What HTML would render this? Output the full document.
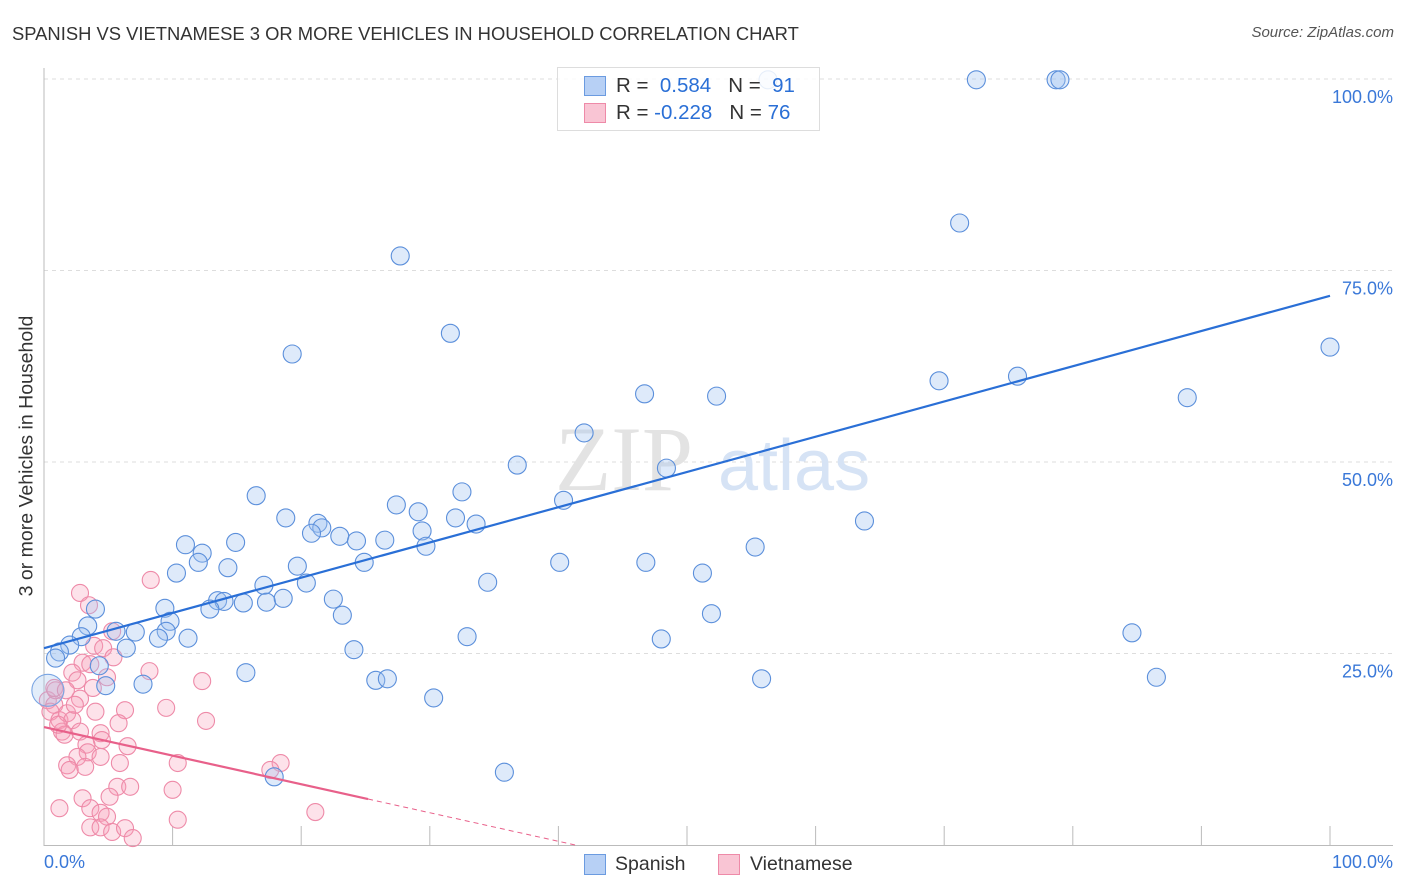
<!DOCTYPE html>
<html><head><meta charset="utf-8">
<style>
body{margin:0;background:#fff;font-family:"Liberation Sans",sans-serif;}
#wrap{position:relative;width:1406px;height:892px;overflow:hidden;}
.t{position:absolute;white-space:nowrap;}
</style></head>
<body>
<div id="wrap">
<div class="t" style="left:12px;top:23px;font-size:18.4px;color:#333;">SPANISH VS VIETNAMESE 3 OR MORE VEHICLES IN HOUSEHOLD CORRELATION CHART</div>
<div class="t" style="right:12px;top:24px;font-size:15px;color:#555;font-style:italic;">Source: ZipAtlas.com</div>
<svg id="svg" width="1406" height="892" style="position:absolute;left:0;top:0"></svg>
</div>
<script>
const blueX=[56.3,72.5,78.7,79.0,71.2,27.7,19.3,31.6,100,75.7,69.6,88.9,52.3,46.7,42.0,36.8,48.4,40.4,32.5,16.5,27.4,29.1,32.0,33.6,18.8,21.3,21.6,20.8,23.0,24.3,26.5,29.4,29.7,63.8,55.3,14.9,11.0,12.3,12.0,24.9,40.1,46.8,14.3,19.7,10.3,51.2,34.5,17.1,20.4,13.5,14.0,15.5,17.3,18.6,22.5,12.9,9.4,4.0,23.2,51.9,9.8,3.4,5.6,7.1,9.5,84.6,32.9,48.0,11.2,8.9,2.9,2.0,6.4,24.1,1.2,0.9,4.3,15.7,25.8,26.7,55.8,86.5,7.7,4.8,30.3,17.9,35.8];
const blueY=[99.9,99.9,99.9,99.9,81.2,76.9,64.1,66.8,65.0,61.2,60.6,58.4,58.6,58.9,53.8,49.6,49.2,45.0,46.1,45.6,44.4,43.5,42.7,41.9,42.7,42.0,41.4,40.7,40.3,39.7,39.8,41.0,39.0,42.3,38.9,39.5,39.2,38.1,36.9,36.9,36.9,36.9,36.2,36.4,35.5,35.5,34.3,33.9,34.2,31.9,31.8,31.6,31.7,32.2,32.1,30.8,30.9,30.8,30.0,30.2,29.2,28.6,27.9,27.8,27.9,27.7,27.2,26.9,27.0,27.0,27.2,26.1,25.7,25.5,25.2,24.4,23.4,22.5,21.5,21.7,21.7,21.9,21.0,20.8,19.2,8.9,9.5];
const pinkX=[8.3,2.8,3.5,5.3,3.9,4.6,5.4,3.0,3.6,4.9,2.2,2.6,3.8,2.8,8.2,12.3,9.5,12.6,6.3,5.8,0.3,0.8,0.5,0.9,1.2,1.8,2.2,1.4,1.6,2.8,4.4,4.5,6.5,3.3,3.4,4.4,2.6,1.8,2.0,3.2,5.9,10.4,18.4,17.6,5.7,6.7,5.1,10.0,3.0,1.2,3.6,4.4,4.9,3.6,4.4,5.3,6.3,6.9,10.4,21.1,0.8,1.7,2.4,4.0,1.1];
const pinkY=[34.6,32.9,31.3,27.9,26.0,25.7,24.5,23.8,23.6,21.9,22.5,21.5,20.5,19.1,22.7,21.4,17.9,16.2,17.6,15.9,18.9,18.3,17.4,20.2,16.3,17.2,16.3,14.8,14.4,14.8,14.6,13.7,12.9,13.1,12.1,11.5,11.5,10.4,9.8,10.2,10.7,10.7,10.7,9.8,7.6,7.6,6.3,7.2,6.1,4.8,4.8,4.2,3.7,2.3,2.3,1.7,2.2,0.9,3.3,4.3,20.5,20.2,18.3,17.4,15.7];
const blueTrend=[25.7,71.7];
const pinkTrend=[15.4,6.0,0];
const pinkTrendX=[0,25.2,41.3];
const yTicks=[25,50,75,100];
const yTickLabels=["25.0%","50.0%","75.0%","100.0%"];
const xTicks=[10,20,30,40,50,60,70,80,90,100];

const NS="http://www.w3.org/2000/svg";
const svg=document.getElementById('svg');
const X=v=>44+v*12.86;
const Y=v=>845-v*7.66;
function mk(tag,attrs){const e=document.createElementNS(NS,tag);for(const k in attrs)e.setAttribute(k,attrs[k]);svg.appendChild(e);return e;}

yTicks.forEach((t,i)=>{
  const g=mk('line',{x1:44,x2:1393,y1:Y(t),y2:Y(t),stroke:'#ddd','stroke-dasharray':'4,4'});
  
  
  const tx=mk('text',{x:1393,y:Y(t)+24,'text-anchor':'end','font-size':18,fill:'#3a78d8','font-family':'Liberation Sans, sans-serif'});
  tx.textContent=yTickLabels[i];
  
  
});
mk('line',{x1:44,x2:44,y1:68,y2:846,stroke:'#bbb'});
mk('line',{x1:44,x2:1393,y1:845.5,y2:845.5,stroke:'#bbb'});
xTicks.forEach(t=>{
  const l=mk('line',{x1:X(t),x2:X(t),y1:826,y2:845,stroke:'#bbb'});
  
  
});
const wm=mk('text',{x:555,y:490,'font-size':92,fill:'#e3e3e3','font-family':'Liberation Serif, serif'});wm.textContent='ZIP';


const wm2=mk('text',{x:718,y:490,'font-size':72,fill:'#d6e3f5','font-family':'Liberation Sans, sans-serif'});wm2.textContent='atlas';



pinkX.forEach((x,i)=>{
  const c=mk('circle',{cx:X(x),cy:Y(pinkY[i]),r:8.5,fill:'rgba(247,160,185,0.3)',stroke:'#ee8aa8','stroke-width':1.1});
  
  
});
blueX.forEach((x,i)=>{
  const c=mk('circle',{cx:X(x),cy:Y(blueY[i]),r:9,fill:'rgba(160,195,240,0.35)',stroke:'#5b8fdb','stroke-width':1.1});
  
  
});
const big=mk('circle',{cx:X(0.3),cy:Y(20.2),r:16,fill:'rgba(160,195,240,0.3)',stroke:'#7aa5e3','stroke-width':1.1});



const bl=mk('line',{x1:X(0),y1:Y(blueTrend[0]),x2:X(100),y2:Y(blueTrend[1]),stroke:'#2a6fd6','stroke-width':2.2});


const pl=mk('line',{x1:X(pinkTrendX[0]),y1:Y(pinkTrend[0]),x2:X(pinkTrendX[1]),y2:Y(pinkTrend[1]),stroke:'#e8608a','stroke-width':2.2});


const pd=mk('line',{x1:X(pinkTrendX[1]),y1:Y(pinkTrend[1]),x2:X(pinkTrendX[2]),y2:Y(pinkTrend[2]),stroke:'#e8608a','stroke-width':1,'stroke-dasharray':'5,4'});


</script>
<div class="t" style="left:27px;top:456px;transform:translate(-50%,-50%) rotate(-90deg);font-size:19.5px;color:#333;">3 or more Vehicles in Household</div>
<div class="t" style="left:44px;top:852px;font-size:18px;color:#3a78d8;">0.0%</div>
<div class="t" style="right:13px;top:852px;font-size:18px;color:#3a78d8;">100.0%</div>
<div style="position:absolute;left:557px;top:67px;width:261px;height:62px;border:1px solid #ddd;background:rgba(255,255,255,0.85);font-size:20.5px;color:#333;">
 <div style="position:absolute;left:26px;top:8px;width:20px;height:18px;background:#b7d0f5;border:1px solid #6b9be0;"></div>
 <div class="t" style="left:58px;top:6px;">R = &nbsp;<span style="color:#2a6fd6">0.584</span>&nbsp;&nbsp;&nbsp;N = &nbsp;<span style="color:#2a6fd6">91</span></div>
 <div style="position:absolute;left:26px;top:35px;width:20px;height:18px;background:#f9c5d4;border:1px solid #ee8aa8;"></div>
 <div class="t" style="left:58px;top:33px;">R = <span style="color:#2a6fd6">-0.228</span>&nbsp;&nbsp;&nbsp;N = <span style="color:#2a6fd6">76</span></div>
</div>
<div style="position:absolute;left:584px;top:854px;width:20px;height:19px;background:#b7d0f5;border:1px solid #6b9be0;"></div>
<div class="t" style="left:615px;top:853px;font-size:19.5px;color:#333;">Spanish</div>
<div style="position:absolute;left:718px;top:854px;width:20px;height:19px;background:#f9c5d4;border:1px solid #ee8aa8;"></div>
<div class="t" style="left:750px;top:853px;font-size:19.5px;color:#333;">Vietnamese</div>
</body></html>
